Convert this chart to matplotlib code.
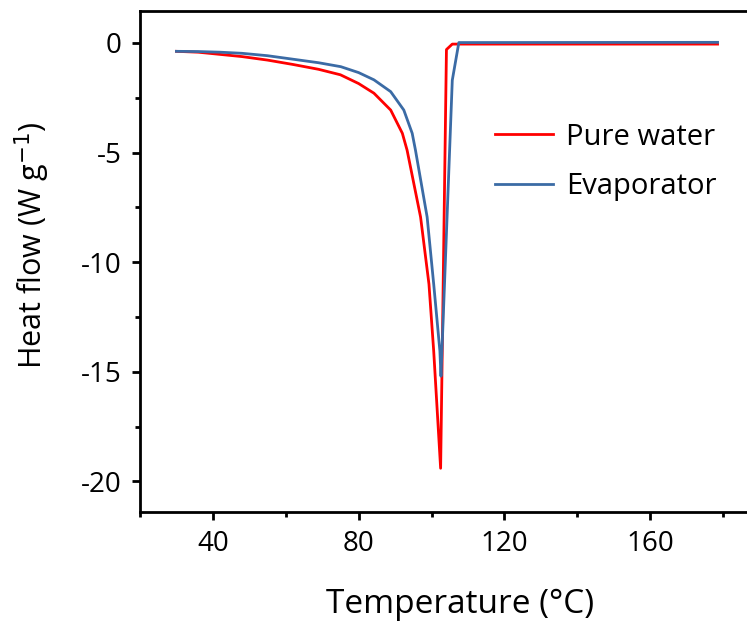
import matplotlib.pyplot as plt
from matplotlib.ticker import MultipleLocator

plt.rcParams['font.family'] = ['Open Sans', 'DejaVu Sans']
plt.rcParams['axes.unicode_minus'] = False

# Data
water_T = [30, 36, 42, 48, 55, 62, 69, 75, 80, 84.2, 88.8, 92, 93.3, 97, 99.3, 100.6,
           102.5, 104.1, 105.7, 178.5]
water_H = [-0.38, -0.42, -0.52, -0.62, -0.78, -0.98, -1.2, -1.45, -1.85, -2.29, -3.06, -4.12, -4.89,
           -7.94, -11.0, -14.05, -19.4, -0.3, -0.05, -0.05]
evap_T = [30, 36, 42, 48, 55, 62, 69, 75.1, 80, 84.2, 88.8, 92.4, 94.7, 95.6, 98.8,
          100.6, 102.3, 102.6, 105.7, 107.5, 178.5]
evap_H = [-0.38, -0.39, -0.42, -0.47, -0.58, -0.74, -0.9, -1.08, -1.35, -1.68, -2.22, -3.06, -4.12,
          -4.89, -7.94, -11.0, -14.05, -15.2, -1.7, 0.02, 0.03]

fig = plt.figure(figsize=(7.47, 6.23), dpi=100)
ax = fig.add_axes([0.1874, 0.178, 0.8293, 0.804])

ax.plot(water_T, water_H, color='#FF0000', lw=2, label='Pure water')
ax.plot(evap_T, evap_H, color='#3B6BA5', lw=2, label='Evaporator')

ax.set_xlim(20, 190)
ax.set_ylim(-21.4, 1.45)
ax.set_xticks([40, 80, 120, 160])
ax.xaxis.set_minor_locator(MultipleLocator(20))
ax.yaxis.set_major_locator(MultipleLocator(5))
ax.yaxis.set_minor_locator(MultipleLocator(2.5))

for s in ax.spines.values():
    s.set_linewidth(2)
ax.tick_params(which='major', direction='out', length=6, width=2, labelsize=20, pad=7)
ax.tick_params(which='minor', direction='out', length=3.5, width=2)

ax.set_xlabel('Temperature (°C)', fontsize=24)
ax.set_ylabel('Heat flow (W g$^{-1}$)', fontsize=22)
ax.xaxis.set_label_coords(0.517, -0.152)
ax.yaxis.set_label_coords(-0.142, 0.533)

ax.legend(loc='upper left', bbox_to_anchor=(0.53, 0.83), frameon=False, fontsize=21,
          handlelength=2.0, handletextpad=0.45, labelspacing=0.7)

fig.savefig('out.png', dpi=100)
